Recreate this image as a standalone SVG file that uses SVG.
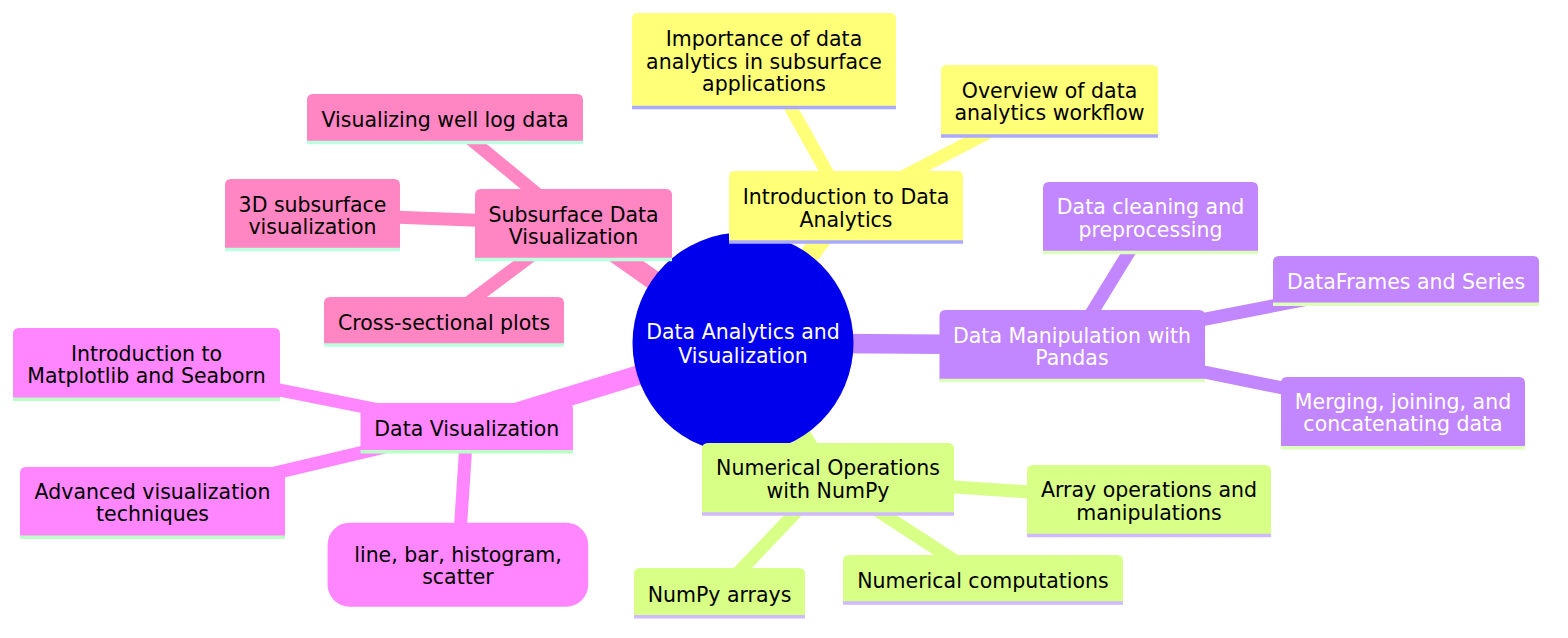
<svg xmlns="http://www.w3.org/2000/svg" width="1568" height="638" viewBox="0 0 1568 638">
<style>
text{font-family:"DejaVu Sans","Liberation Sans",sans-serif;font-size:20.5px;text-anchor:middle;fill:#000}
.e{fill:none;stroke-linecap:butt}
.e0{stroke-width:19.5}
.e1{stroke-width:13}
.s1{fill:#ffff78}.s1l{stroke:#aaaaff}.s1e{stroke:#ffff78}
.s2{fill:#c286ff}.s2l{stroke:#dcffbc}.s2e{stroke:#c286ff}
.s3{fill:#d8ff86}.s3l{stroke:#cfbaff}.s3e{stroke:#d8ff86}
.s4{fill:#ff86c2}.s4l{stroke:#baffdf}.s4e{stroke:#ff86c2}
.s5{fill:#ff86ff}.s5l{stroke:#bbffc6}.s5e{stroke:#ff86ff}
.ln{stroke-width:3.6}
.w{fill:#fff}
</style>
<g id="connectors">
<line class="e e0 s1e" x1="743" y1="343" x2="846" y2="206.5"/>
<line class="e e0 s2e" x1="743" y1="343" x2="1072" y2="345"/>
<line class="e e0 s3e" x1="743" y1="343" x2="828" y2="478.5"/>
<line class="e e0 s4e" x1="743" y1="343" x2="573.5" y2="224"/>
<line class="e e0 s5e" x1="743" y1="343" x2="467" y2="427.5"/>
<line class="e e1 s1e" x1="846" y1="206.5" x2="764" y2="60"/>
<line class="e e1 s1e" x1="846" y1="206.5" x2="1049.5" y2="100.5"/>
<line class="e e1 s2e" x1="1072" y1="345" x2="1150.5" y2="217"/>
<line class="e e1 s2e" x1="1072" y1="345" x2="1406" y2="280"/>
<line class="e e1 s2e" x1="1072" y1="345" x2="1403" y2="412.5"/>
<line class="e e1 s3e" x1="828" y1="478.5" x2="1149" y2="500"/>
<line class="e e1 s3e" x1="828" y1="478.5" x2="983" y2="579"/>
<line class="e e1 s3e" x1="828" y1="478.5" x2="719.5" y2="592.5"/>
<line class="e e1 s4e" x1="573.5" y1="224" x2="445" y2="118"/>
<line class="e e1 s4e" x1="573.5" y1="224" x2="312.5" y2="214"/>
<line class="e e1 s4e" x1="573.5" y1="224" x2="444" y2="321"/>
<line class="e e1 s5e" x1="467" y1="427.5" x2="146.5" y2="363.5"/>
<line class="e e1 s5e" x1="467" y1="427.5" x2="152.5" y2="502"/>
<line class="e e1 s5e" x1="467" y1="427.5" x2="458" y2="565"/>
</g>
<g id="root">
<circle cx="743" cy="343" r="110.5" fill="#0000ec"/>
<text class="w" x="743" y="339.3">Data Analytics and</text>
<text class="w" x="743" y="362.7">Visualization</text>
</g>
<g id="intro">
<path class="s1" d="M729 242V177Q729 171 735 171H957Q963 171 963 177V242Z"/>
<line class="s1l ln" x1="729" y1="242" x2="963" y2="242"/>
<text x="846" y="204">Introduction to Data</text>
<text x="846" y="226.5">Analytics</text>
</g>
<g id="importance">
<path class="s1" d="M632 107.5V19Q632 13 638 13H890Q896 13 896 19V107.5Z"/>
<line class="s1l ln" x1="632" y1="107.5" x2="896" y2="107.5"/>
<text x="764" y="46">Importance of data</text>
<text x="764" y="68.5">analytics in subsurface</text>
<text x="764" y="91">applications</text>
</g>
<g id="overview">
<path class="s1" d="M941 136V71Q941 65 947 65H1152Q1158 65 1158 71V136Z"/>
<line class="s1l ln" x1="941" y1="136" x2="1158" y2="136"/>
<text x="1049.5" y="97.5">Overview of data</text>
<text x="1049.5" y="120">analytics workflow</text>
</g>
<g id="datamanip">
<path class="s2" d="M939.5 380.5V316Q939.5 310 945.5 310H1199Q1205 310 1205 316V380.5Z"/>
<line class="s2l ln" x1="939.5" y1="380.5" x2="1205" y2="380.5"/>
<text class="w" x="1072" y="342.7">Data Manipulation with</text>
<text class="w" x="1072" y="365.3">Pandas</text>
</g>
<g id="cleaning">
<path class="s2" d="M1043 252.5V188Q1043 182 1049 182H1252Q1258 182 1258 188V252.5Z"/>
<line class="s2l ln" x1="1043" y1="252.5" x2="1258" y2="252.5"/>
<text class="w" x="1150.5" y="214.3">Data cleaning and</text>
<text class="w" x="1150.5" y="236.8">preprocessing</text>
</g>
<g id="dataframes">
<path class="s2" d="M1273 304.3V262Q1273 256 1279 256H1533Q1539 256 1539 262V304.3Z"/>
<line class="s2l ln" x1="1273" y1="304.3" x2="1539" y2="304.3"/>
<text class="w" x="1406" y="289.3">DataFrames and Series</text>
</g>
<g id="merging">
<path class="s2" d="M1281 447.7V383Q1281 377 1287 377H1519Q1525 377 1525 383V447.7Z"/>
<line class="s2l ln" x1="1281" y1="447.7" x2="1525" y2="447.7"/>
<text class="w" x="1403" y="408.9">Merging, joining, and</text>
<text class="w" x="1403" y="431.3">concatenating data</text>
</g>
<g id="numops">
<path class="s3" d="M702 514V449Q702 443 708 443H948Q954 443 954 449V514Z"/>
<line class="s3l ln" x1="702" y1="514" x2="954" y2="514"/>
<text x="828" y="475.2">Numerical Operations</text>
<text x="828" y="497.6">with NumPy</text>
</g>
<g id="array">
<path class="s3" d="M1027 535.5V471Q1027 465 1033 465H1265Q1271 465 1271 471V535.5Z"/>
<line class="s3l ln" x1="1027" y1="535.5" x2="1271" y2="535.5"/>
<text x="1149" y="497">Array operations and</text>
<text x="1149" y="519.5">manipulations</text>
</g>
<g id="numcomp">
<path class="s3" d="M843 603V561Q843 555 849 555H1117Q1123 555 1123 561V603Z"/>
<line class="s3l ln" x1="843" y1="603" x2="1123" y2="603"/>
<text x="983" y="588.3">Numerical computations</text>
</g>
<g id="numpyarrays">
<path class="s3" d="M634 616.7V574Q634 568 640 568H799Q805 568 805 574V616.7Z"/>
<line class="s3l ln" x1="634" y1="616.7" x2="805" y2="616.7"/>
<text x="719.5" y="601.7">NumPy arrays</text>
</g>
<g id="subsurface">
<path class="s4" d="M475 259.5V195Q475 189 481 189H666Q672 189 672 195V259.5Z"/>
<line class="s4l ln" x1="475" y1="259.5" x2="672" y2="259.5"/>
<text x="573.5" y="221.7">Subsurface Data</text>
<text x="573.5" y="244.1">Visualization</text>
</g>
<g id="welllog">
<path class="s4" d="M307 142.5V100Q307 94 313 94H577Q583 94 583 100V142.5Z"/>
<line class="s4l ln" x1="307" y1="142.5" x2="583" y2="142.5"/>
<text x="445" y="126.7">Visualizing well log data</text>
</g>
<g id="subsurface3d">
<path class="s4" d="M225 249.5V185Q225 179 231 179H394Q400 179 400 185V249.5Z"/>
<line class="s4l ln" x1="225" y1="249.5" x2="400" y2="249.5"/>
<text x="312.5" y="211.7">3D subsurface</text>
<text x="312.5" y="234.1">visualization</text>
</g>
<g id="cross">
<path class="s4" d="M324 345V303Q324 297 330 297H558Q564 297 564 303V345Z"/>
<line class="s4l ln" x1="324" y1="345" x2="564" y2="345"/>
<text x="444" y="330">Cross-sectional plots</text>
</g>
<g id="datavis">
<path class="s5" d="M360.5 451.7V409Q360.5 403 366.5 403H567Q573 403 573 409V451.7Z"/>
<line class="s5l ln" x1="360.5" y1="451.7" x2="573" y2="451.7"/>
<text x="466.8" y="435.7">Data Visualization</text>
</g>
<g id="matplotlib">
<path class="s5" d="M13 399.3V334Q13 328 19 328H274Q280 328 280 334V399.3Z"/>
<line class="s5l ln" x1="13" y1="399.3" x2="280" y2="399.3"/>
<text x="146.5" y="361">Introduction to</text>
<text x="146.5" y="383.4">Matplotlib and Seaborn</text>
</g>
<g id="advanced">
<path class="s5" d="M20 537.3V473Q20 467 26 467H279Q285 467 285 473V537.3Z"/>
<line class="s5l ln" x1="20" y1="537.3" x2="285" y2="537.3"/>
<text x="152.5" y="499">Advanced visualization</text>
<text x="152.5" y="521.4">techniques</text>
</g>
<g id="linebar">
<rect class="s5" x="327.6" y="522.7" width="260.6" height="84" rx="22" ry="22"/>
<text x="458" y="562">line, bar, histogram,</text>
<text x="458" y="584.4">scatter</text>
</g>
</svg>
